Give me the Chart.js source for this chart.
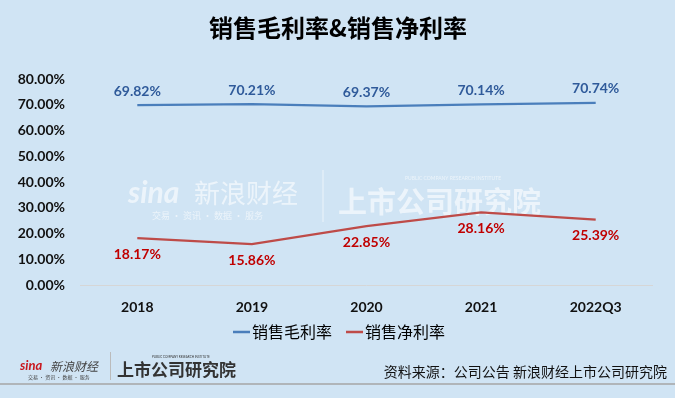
<!DOCTYPE html>
<html>
<head>
<meta charset="utf-8">
<script src="https://cdn.jsdelivr.net/npm/chart.js@4.4.0/dist/chart.umd.min.js"></script>
<style>
  html, body { margin: 0; padding: 0; background: #d0e4f4; }
  #wrap { width: 675px; height: 398px; position: relative; }
</style>
</head>
<body>
<div id="wrap"><canvas id="chart" width="675" height="398"></canvas></div>
<script>
const years = ['2018', '2019', '2020', '2021', '2022Q3'];
const grossMargin = [69.82, 70.21, 69.37, 70.14, 70.74];
const netMargin = [18.17, 15.86, 22.85, 28.16, 25.39];
const seriesNames = ['销售毛利率', '销售净利率'];
const titleText = '销售毛利率&销售净利率';
const sourceText = '资料来源：公司公告 新浪财经上市公司研究院';

const CJK = '"Noto Sans CJK SC", "Noto Sans", sans-serif';
const NUM = 'Lato, "Liberation Sans", sans-serif';

// labels above the blue line, below the red one
const valueLabels = {
  id: 'valueLabels',
  afterDatasetsDraw(chart) {
    const ctx = chart.ctx;
    ctx.save();
    ctx.font = 'bold 14px ' + NUM;
    ctx.textAlign = 'center';
    ctx.textBaseline = 'middle';
    chart.data.datasets.forEach((ds, i) => {
      const meta = chart.getDatasetMeta(i);
      ctx.fillStyle = i === 0 ? '#2f5a9a' : '#c00000';
      meta.data.forEach((pt, j) => {
        const dy = i === 0 ? -14 : 16;
        ctx.fillText(ds.data[j].toFixed(2) + '%', pt.x, pt.y + dy);
      });
    });
    ctx.restore();
  }
};

// title, legend, footer and watermark
const decorations = {
  id: 'decorations',
  beforeDatasetsDraw(chart) {
    const ctx = chart.ctx;
    ctx.save();
    ctx.fillStyle = 'rgba(255,255,255,0.6)';
    ctx.strokeStyle = 'rgba(255,255,255,0.6)';
    ctx.textBaseline = 'middle';
    ctx.textAlign = 'left';
    ctx.font = 'italic bold 30px ' + NUM;
    ctx.fillText('sina', 128, 193);
    ctx.font = '26px ' + CJK;
    ctx.fillText('新浪财经', 194, 193);
    ctx.font = '9px ' + CJK;
    ctx.fillText('交易 · 资讯 · 数据 · 服务', 152, 216);
    ctx.lineWidth = 1;
    ctx.beginPath();
    ctx.moveTo(323, 170);
    ctx.lineTo(323, 222);
    ctx.stroke();
    ctx.font = 'bold 29px ' + CJK;
    ctx.fillText('上市公司研究院', 338, 202);
    ctx.font = '5px ' + NUM;
    ctx.fillText('PUBLIC COMPANY RESEARCH INSTITUTE', 405, 178);
    ctx.restore();
  },
  afterDraw(chart) {
    const ctx = chart.ctx;
    ctx.save();
    ctx.textBaseline = 'middle';
    ctx.textAlign = 'center';
    ctx.fillStyle = '#000';
    ctx.font = 'bold 24px ' + CJK;
    ctx.fillText(titleText, 338, 28);

    // legend
    const colors = chart.data.datasets.map(d => d.borderColor);
    const items = [[233, 252], [346, 365]];
    ctx.font = '16px ' + CJK;
    ctx.textAlign = 'left';
    items.forEach((p, i) => {
      ctx.strokeStyle = colors[i];
      ctx.lineWidth = 2.5;
      ctx.beginPath();
      ctx.moveTo(p[0], 332);
      ctx.lineTo(p[0] + 17, 332);
      ctx.stroke();
      ctx.fillStyle = '#000';
      ctx.fillText(chart.data.datasets[i].label, p[1], 332);
    });

    // footer
    ctx.strokeStyle = '#a6a6a6';
    ctx.lineWidth = 1.5;
    ctx.beginPath();
    ctx.moveTo(0, 384);
    ctx.lineTo(675, 384);
    ctx.stroke();
    ctx.fillStyle = '#111';
    ctx.font = '14px ' + CJK;
    ctx.textAlign = 'right';
    ctx.fillText(sourceText, 667, 372);

    ctx.textAlign = 'left';
    ctx.fillStyle = '#c8161d';
    ctx.font = 'italic bold 13px ' + NUM;
    ctx.fillText('sina', 20, 366);
    ctx.fillStyle = '#444';
    ctx.font = 'italic 12px ' + CJK;
    ctx.fillText('新浪财经', 50, 366);
    ctx.font = '5px ' + CJK;
    ctx.fillText('交易 · 资讯 · 数据 · 服务', 28, 377);
    ctx.strokeStyle = '#bbb';
    ctx.lineWidth = 1;
    ctx.beginPath();
    ctx.moveTo(110.5, 352);
    ctx.lineTo(110.5, 380);
    ctx.stroke();
    ctx.fillStyle = '#333';
    ctx.font = 'bold 17px ' + CJK;
    ctx.fillText('上市公司研究院', 117, 370);
    ctx.font = '3px ' + NUM;
    ctx.fillText('PUBLIC COMPANY RESEARCH INSTITUTE', 152, 357);
    ctx.restore();
  }
};

new Chart(document.getElementById('chart'), {
  type: 'line',
  data: {
    labels: years,
    datasets: [{
      label: seriesNames[0],
      data: grossMargin,
      borderColor: '#4a7ebb',
      borderWidth: 2.25,
      pointRadius: 0,
      tension: 0
    }, {
      label: seriesNames[1],
      data: netMargin,
      borderColor: '#be4b48',
      borderWidth: 2.25,
      pointRadius: 0,
      tension: 0
    }]
  },
  options: {
    responsive: false,
    animation: false,
    layout: { padding: { top: 79, right: 22, left: 0, bottom: 0 } },
    plugins: { legend: { display: false }, title: { display: false }, tooltip: { enabled: false } },
    scales: {
      x: {
        offset: true,
        grid: { display: false, drawTicks: false },
        border: { display: false },
        ticks: { padding: 14, color: '#111', font: { family: NUM, size: 14, weight: 'bold' } },
        afterFit(scale) { scale.height = 113; }
      },
      y: {
        min: 0,
        max: 80,
        grid: {
          drawTicks: false,
          color: c => c.tick.value === 0 ? '#d6d6d6' : 'transparent'
        },
        border: { display: false },
        ticks: {
          stepSize: 10,
          padding: 15,
          color: '#111',
          font: { family: NUM, size: 14, weight: 'bold' },
          callback: v => v.toFixed(2) + '%'
        },
        afterFit(scale) { scale.width = 80; }
      }
    }
  },
  plugins: [valueLabels, decorations]
});
</script>
</body>
</html>
